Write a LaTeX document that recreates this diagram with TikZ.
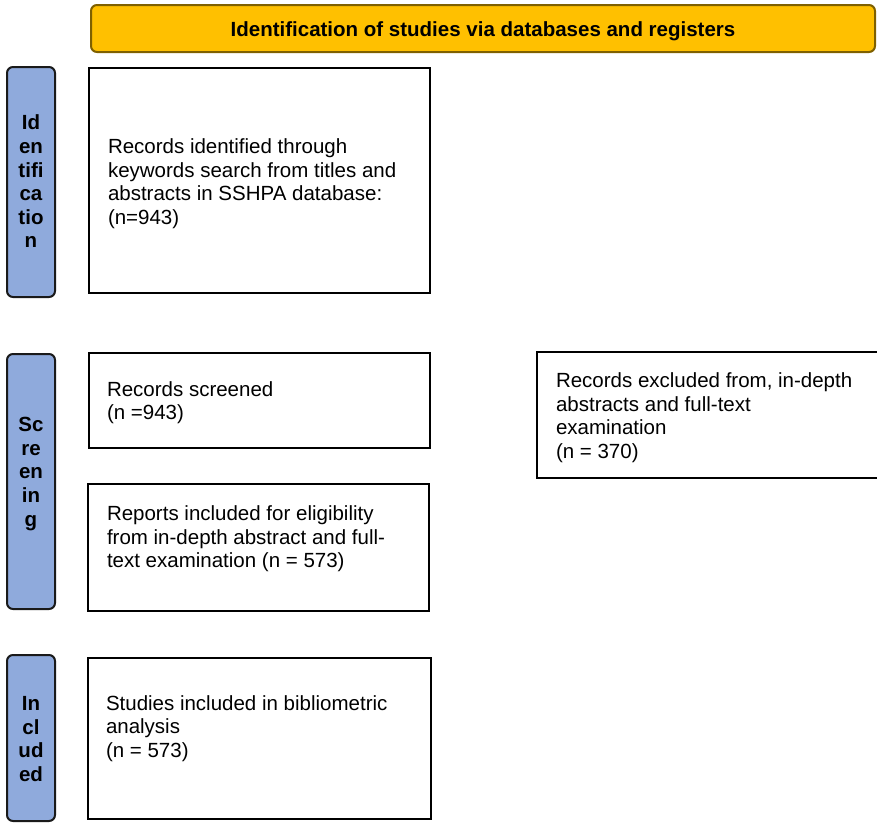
\documentclass[tikz,border=0pt]{standalone}
\usepackage{fontspec}
\setmainfont{Liberation Sans}
\definecolor{hdrfill}{HTML}{FFC000}
\definecolor{hdrborder}{HTML}{7F6000}
\definecolor{barfill}{HTML}{8FAADC}
\definecolor{barborder}{HTML}{1A1A1A}
\begin{document}
\begin{tikzpicture}[x=1pt,y=-1pt,
  every node/.style={inner sep=0pt, outer sep=0pt},
  hdr/.style={draw=hdrborder, fill=hdrfill, rounded corners=6pt, line width=2pt},
  bar/.style={draw=barborder, fill=barfill, rounded corners=6pt, line width=2pt, minimum width=48pt},
  box/.style={draw=black, line width=1.8pt, minimum width=341pt},
  lbl/.style={font=\fontsize{20.5}{23.6}\selectfont\bfseries, align=center},
  txt/.style={font=\fontsize{20.5}{23.5}\selectfont, align=left, anchor=west}]
\useasboundingbox (0,0) rectangle (877,822);
\clip (0,0) rectangle (877,822);
% header
\node[hdr, minimum width=784pt, minimum height=47pt] (header) at (483,28.5) {};
\node[lbl] (headertext) at (483,31) {Identification of studies via databases and registers};
% side bars
\node[bar, minimum height=230pt] (barid) at (31,182) {};
\node[lbl] (baridtext) at (31,181.5) {Id\\en\\tifi\\ca\\tio\\n};
\node[bar, minimum height=255pt] (barsc) at (31,481.5) {};
\node[lbl] (barsctext) at (31,474) {Sc\\re\\en\\in\\g};
\node[bar, minimum height=166pt] (barin) at (31,738) {};
\node[lbl] (barintext) at (31,739) {In\\cl\\ud\\ed};
% boxes
\node[box, minimum height=225pt] (identified) at (259.5,180.5) {};
\node[txt] (identifiedtext) at (108,183.5) {Records identified through\\keywords search from titles and\\abstracts in SSHPA database:\\(n=943)};
\node[box, minimum height=95pt] (screened) at (259.5,400.5) {};
\node[txt] (screenedtext) at (107,402.5) {Records screened\\(n =943)};
\node[box, minimum height=127pt] (reports) at (258.5,547.5) {};
\node[txt] (reportstext) at (107,539) {Reports included for eligibility\\from in-depth abstract and full-\\text examination (n = 573)};
\node[box, minimum width=343pt, minimum height=161pt] (studies) at (259.5,738.5) {};
\node[txt] (studiestext) at (106,728.5) {Studies included in bibliometric\\analysis\\(n = 573)};
\node[box, minimum width=363pt, minimum height=126pt] (excluded) at (718.5,415) {};
\node[txt] (excludedtext) at (556,417.5) {Records excluded from, in-depth\\abstracts and full-text\\examination\\(n = 370)};
\end{tikzpicture}
\end{document}
